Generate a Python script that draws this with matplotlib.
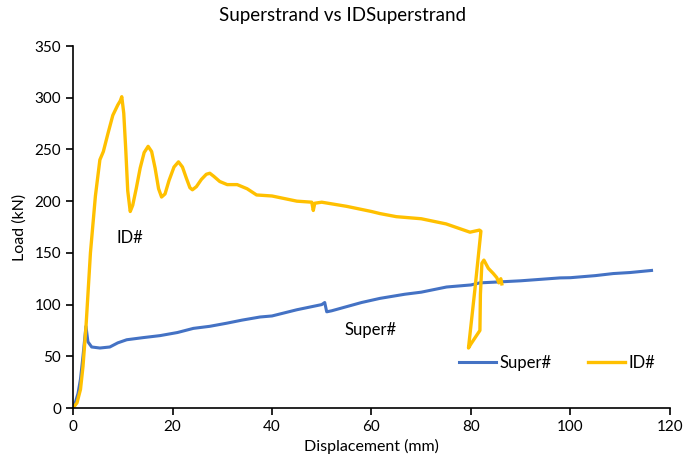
import matplotlib.pyplot as plt

plt.rcParams['font.family'] = ['Lato', 'DejaVu Sans']

# Super# curve (displacement mm, load kN)
super_x = [0, 0.5, 1.0, 1.5, 2.0, 2.6, 3.0, 3.75, 5.4, 7.4, 9.0, 10.8, 14.0, 17.5, 21.0, 24.2,
           27.5, 30.9, 34.0, 37.6, 40.0, 45.0, 48.0, 50.0, 50.6, 51.0, 52.0, 55.0, 58.0, 61.7,
           66.7, 70.0, 75.1, 80.0, 81.8, 86.0, 90.0, 97.9, 100.0, 105.0, 108.6, 112.0, 116.3]
super_y = [0, 6, 14, 28, 50, 79, 64, 59, 58, 59, 63, 66, 68, 70, 73, 77,
           79, 82, 85, 88, 89, 95, 98, 100, 102, 93, 94, 98, 102, 106,
           110, 112, 117, 119, 121, 122, 123, 125.8, 126, 128, 130, 131, 133]

# ID# curve
id_x = [0, 0.8, 1.5, 2.0, 2.6, 3.5, 4.5, 5.4, 6.1, 7.0, 8.0, 9.0, 9.5, 9.8, 10.2, 10.6,
        11.0, 11.5, 12.0, 12.7, 13.5, 14.3, 15.1, 15.8, 16.5, 17.2, 17.8, 18.5, 19.3, 20.3,
        21.2, 22.0, 22.8, 23.5, 24.0, 24.8, 25.8, 26.8, 27.5, 28.3, 29.5, 31.0, 33.0, 35.0,
        36.9, 40.0, 45.0, 48.0, 48.3, 48.6, 50.0, 55.0, 60.0, 61.7, 65.0, 70.0, 75.0,
        79.8, 81.7, 82.0, 80.8, 79.5, 80.0, 81.8, 81.9, 82.2, 82.6, 83.5, 84.5, 85.2, 85.6,
        86.0, 86.2]
id_y = [0, 5, 18, 40, 78, 150, 205, 240, 248, 265, 283, 293, 297, 301, 285, 250,
        210, 190, 196, 212, 232, 247, 253, 248, 232, 212, 204, 207, 220, 233,
        238, 233, 222, 213, 211, 214, 221, 226, 227, 224, 219, 216, 216, 212,
        206, 205, 200, 199, 191, 198, 199, 195, 190, 188, 185, 183, 178,
        170, 172, 171, 115, 58, 62, 75, 110, 140, 143, 135, 130, 126, 121,
        125, 120]

fig = plt.figure(figsize=(6.85, 4.73), dpi=100)
ax = fig.add_axes([0.1066, 0.1374, 0.8714, 0.7653])

ax.plot(super_x, super_y, color='#4472C4', lw=2.2, label='Super#')
ax.plot(id_x, id_y, color='#FFC000', lw=2.4, label='ID#')

ax.set_xlim(0, 120)
ax.set_ylim(0, 350)
ax.set_xticks(range(0, 121, 20))
ax.set_yticks(range(0, 351, 50))
for side in ['top', 'right']:
    ax.spines[side].set_visible(False)
for side in ['left', 'bottom']:
    ax.spines[side].set_color('black')
    ax.spines[side].set_linewidth(1.2)
ax.tick_params(direction='out', length=5, width=1.2, labelsize=11, colors='black')

ax.set_xlabel('Displacement (mm)', fontsize=11.5, labelpad=4)
ax.set_ylabel('Load (kN)', fontsize=11.5, labelpad=6)
fig.suptitle('Superstrand vs IDSuperstrand', fontsize=13.5, y=0.985)

ax.text(8.7, 160, 'ID#', fontsize=12)
ax.text(54.5, 71, 'Super#', fontsize=12)

ax.legend(loc='lower right', bbox_to_anchor=(1.0, 0.06), ncol=2, frameon=False,
          fontsize=12, handlelength=2.2, columnspacing=2.2, handletextpad=0.2)

fig.savefig('out.png', dpi=100)
